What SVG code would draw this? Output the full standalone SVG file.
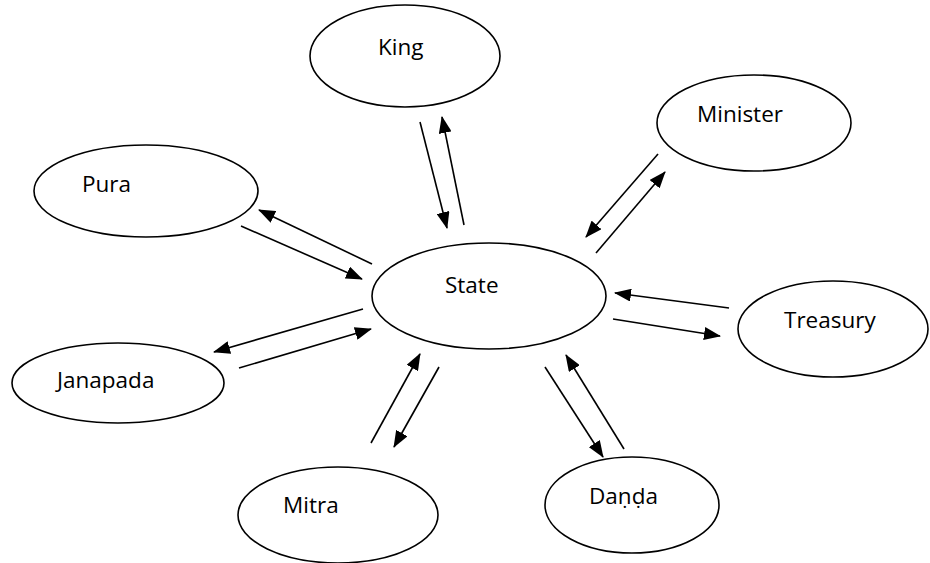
<svg xmlns="http://www.w3.org/2000/svg" width="930" height="563" viewBox="0 0 930 563">
  <style>
    .node ellipse { fill: #ffffff; stroke: #000000; stroke-width: 1.6; }
    .node text { font-family: "Open Sans", "Liberation Sans", sans-serif; font-size: 22.5px; fill: #000000; }
    #connectors line { stroke: #000000; stroke-width: 1.6; marker-end: url(#arrow); }
  </style>
  <defs>
    <marker id="arrow" viewBox="0 0 17 13" refX="16" refY="6.5" markerWidth="17" markerHeight="13" markerUnits="userSpaceOnUse" orient="auto">
      <path d="M0,0 L17,6.5 L0,13 Z" fill="#000000"/>
    </marker>
  </defs>
  <rect width="930" height="563" fill="#ffffff"/>

  <g id="king" class="node">
    <ellipse cx="405" cy="56" rx="95" ry="51"/>
    <text x="378" y="55">King</text>
  </g>
  <g id="minister" class="node">
    <ellipse cx="754" cy="123" rx="97" ry="48"/>
    <text x="697" y="122">Minister</text>
  </g>
  <g id="pura" class="node">
    <ellipse cx="146" cy="191" rx="112" ry="46"/>
    <text x="82" y="192">Pura</text>
  </g>
  <g id="state" class="node">
    <ellipse cx="489" cy="296" rx="117" ry="53"/>
    <text x="445" y="293">State</text>
  </g>
  <g id="treasury" class="node">
    <ellipse cx="833" cy="329" rx="95" ry="48"/>
    <text x="784" y="328">Treasury</text>
  </g>
  <g id="janapada" class="node">
    <ellipse cx="118" cy="383" rx="106" ry="40"/>
    <text x="57" y="388">Janapada</text>
  </g>
  <g id="mitra" class="node">
    <ellipse cx="338" cy="515" rx="100" ry="48"/>
    <text x="283" y="513">Mitra</text>
  </g>
  <g id="danda" class="node">
    <ellipse cx="632" cy="505" rx="87" ry="48"/>
    <text x="589" y="504">Daṇḍa</text>
  </g>

  <g id="connectors">
    <!-- King -->
    <line x1="420" y1="122" x2="447" y2="228"/>
    <line x1="464" y1="225" x2="442" y2="117"/>
    <!-- Minister -->
    <line x1="658" y1="154" x2="586" y2="237"/>
    <line x1="596" y1="253" x2="665" y2="172"/>
    <!-- Pura -->
    <line x1="372" y1="264" x2="259" y2="210"/>
    <line x1="241" y1="226" x2="362" y2="279"/>
    <!-- Janapada -->
    <line x1="363" y1="309" x2="214" y2="352"/>
    <line x1="239" y1="368" x2="371" y2="329"/>
    <!-- Treasury -->
    <line x1="729" y1="308" x2="615" y2="293"/>
    <line x1="613" y1="319" x2="720" y2="336"/>
    <!-- Mitra -->
    <line x1="371" y1="443" x2="420" y2="354"/>
    <line x1="439" y1="367" x2="394" y2="447"/>
    <!-- Danda -->
    <line x1="545" y1="367" x2="603" y2="457"/>
    <line x1="624" y1="449" x2="566" y2="355"/>
  </g>
</svg>
